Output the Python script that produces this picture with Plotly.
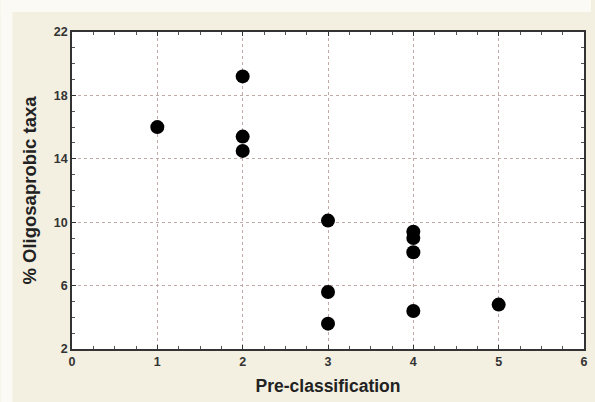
import plotly.graph_objects as go

pre_class = [1, 2, 2, 2, 3, 3, 3, 4, 4, 4, 4, 5]
oligo_pct = [16.0, 19.2, 15.4, 14.5, 10.1, 5.6, 3.6, 9.4, 9.0, 8.1, 4.4, 4.8]

W, H = 595, 402
L, R, T, B = 72, 7, 32, 53
pw, ph = W - L - R, H - T - B

def px2x(px):
    return (px - L) / pw

def py2y(py):
    return (H - B - py) / ph

fig = go.Figure()
fig.add_trace(go.Scatter(
    x=pre_class, y=oligo_pct, mode="markers",
    marker=dict(color="black", size=14, line=dict(width=0)),
    showlegend=False,
))

grid_col = "#c2aaa6"
font_fam = "Liberation Sans, Arial, sans-serif"

common = dict(
    showgrid=True, gridcolor=grid_col, griddash="dot", gridwidth=1,
    zeroline=False, showline=True, linecolor="#333", linewidth=1.5, mirror="allticks",
    ticks="inside", ticklen=4, tickcolor="#333",
    tickfont=dict(size=12.5, weight="bold", family=font_fam, color="#333"),
)

fig.update_layout(
    width=W, height=H,
    margin=dict(l=L, r=R, t=T, b=B),
    paper_bgcolor="#f3f0e1",
    plot_bgcolor="white",
    font=dict(family=font_fam, color="#222"),
    xaxis=dict(
        range=[0, 6], tickvals=[0, 1, 2, 3, 4, 5, 6],
        minor=dict(dtick=0.25, ticks="inside", ticklen=3, tickcolor="#555", showgrid=False),
        title=dict(text="Pre-classification", font=dict(size=17.5, weight="bold", family=font_fam, color="#222"), standoff=12),
        **common,
    ),
    yaxis=dict(
        range=[2, 22], tickvals=[2, 6, 10, 14, 18, 22],
        minor=dict(dtick=1, ticks="inside", ticklen=3, tickcolor="#555", showgrid=False),
        title=dict(text="% Oligosaprobic taxa", font=dict(size=18.5, weight="bold", family=font_fam, color="#222"), standoff=12),
        **common,
    ),
    shapes=[
        dict(type="rect", xref="paper", yref="paper", layer="below",
             x0=px2x(0), x1=px2x(W), y0=py2y(12), y1=py2y(0),
             fillcolor="#fbfaf4", line=dict(width=0)),
        dict(type="rect", xref="paper", yref="paper", layer="below",
             x0=px2x(0), x1=px2x(12), y0=py2y(H), y1=py2y(0),
             fillcolor="#fbfaf4", line=dict(width=0)),
    ],
)

fig.write_html("out.html")
